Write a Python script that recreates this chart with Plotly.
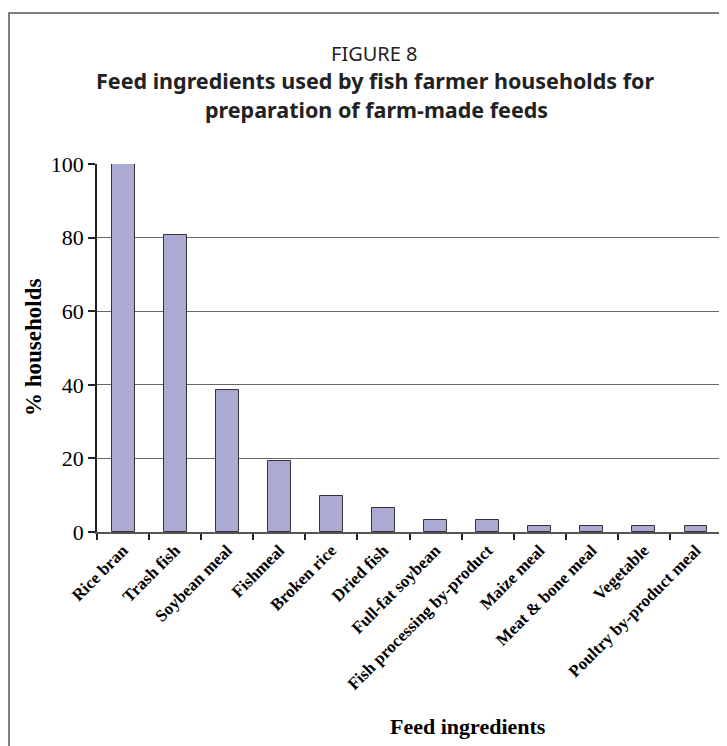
import plotly.graph_objects as go

categories = ["Rice bran", "Trash fish", "Soybean meal", "Fishmeal", "Broken rice",
              "Dried fish", "Full-fat soybean", "Fish processing by-product",
              "Maize meal", "Meat & bone meal", "Vegetable", "Poultry by-product meal"]
households_pct = [100, 80.6, 38.7, 19.4, 9.7, 6.5, 3.2, 3.2, 1.6, 1.6, 1.6, 1.6]
y_ticks = [0, 20, 40, 60, 80, 100]

# page has an 8px body margin; figure sized to fit the 727x746 window
OFF = 8
W, H = 727 - OFF, 746 - OFF
L, R, T, B = 97 - OFF, 5, 164 - OFF, 214

fig = go.Figure(go.Bar(
    x=categories, y=households_pct,
    width=0.44,
    marker=dict(color="#AAAAD5", line=dict(color="#333333", width=1)),
))

serif = "Liberation Serif, Times New Roman, serif"
sans = "Noto Sans, Open Sans, sans-serif"

fig.update_layout(
    width=W, height=H,
    margin=dict(l=L, r=R, t=T, b=B, autoexpand=False),
    paper_bgcolor="white", plot_bgcolor="white",
    showlegend=False,
    bargap=0,
    xaxis=dict(
        type="category", tickson="boundaries", ticks="outside", ticklen=6,
        tickcolor="#222", tickwidth=1.5,
        showline=True, linecolor="#555", linewidth=1.5,
        showgrid=False, tickangle=-45,
        tickfont=dict(family=serif, size=17, color="black", weight="bold"),
    ),
    yaxis=dict(
        range=[0, 100], tickvals=y_ticks, ticks="outside", ticklen=7,
        tickcolor="#222", tickwidth=1.5,
        showline=True, linecolor="#222", linewidth=1.5,
        showgrid=True, gridcolor="#666", gridwidth=1,
        zeroline=False,
        tickfont=dict(family=serif, size=22, color="black"),
    ),
)

# positions given in page pixels (x, y from top)
ann = [
    dict(text="FIGURE 8", x=374, y=53, font=dict(family=sans, size=20, color="#222")),
    dict(text="<b>Feed ingredients used by fish farmer households for</b>", x=375, y=81,
         font=dict(family=sans, size=21.5, color="#222")),
    dict(text="<b>preparation of farm-made feeds</b>", x=376, y=110,
         font=dict(family=sans, size=21.5, color="#222")),
    dict(text="<b>Feed ingredients</b>", x=468, y=726,
         font=dict(family=serif, size=22, color="black")),
    dict(text="<b>% households</b>", x=33, y=348, textangle=-90,
         font=dict(family=serif, size=23, color="black")),
]
for a in ann:
    a.update(xref="paper", yref="paper", showarrow=False, xanchor="center", yanchor="middle")
    a["x"] = (a["x"] - OFF - L) / (W - L - R)
    a["y"] = (H - (a["y"] - OFF) - B) / (H - T - B)
fig.update_layout(annotations=ann)

def px(xp):
    return (xp - OFF - L) / (W - L - R)

def py(yp):
    return (H - (yp - OFF) - B) / (H - T - B)

fig.add_shape(type="rect", xref="paper", yref="paper",
              x0=px(9), x1=px(740), y0=py(760), y1=py(13),
              line=dict(color="#555", width=1.5), fillcolor="rgba(0,0,0,0)")

fig.write_html("out.html")
